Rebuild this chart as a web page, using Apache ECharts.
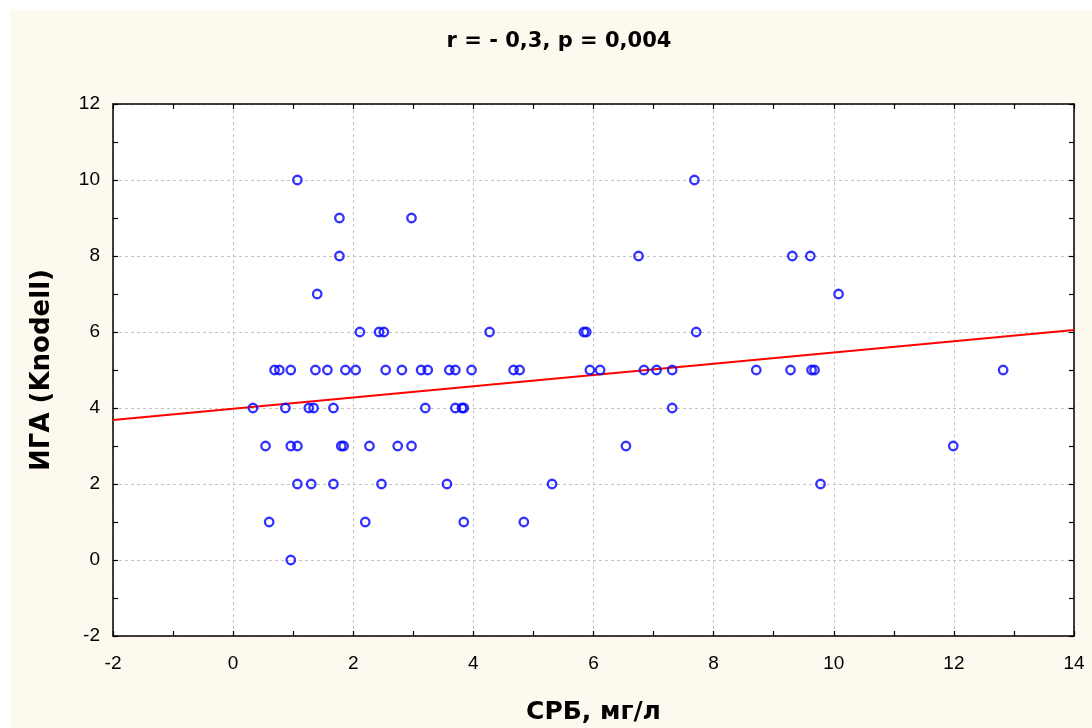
<!DOCTYPE html>
<html>
<head>
<meta charset="utf-8">
<script src="https://cdn.jsdelivr.net/npm/echarts@6/dist/echarts.min.js"></script>
<style>
html,body{margin:0;padding:0;background:#ffffff;}
#chart{width:1092px;height:728px;}
</style>
</head>
<body>
<div id="chart"></div>
<script>
// ---- data ----
const titleText = 'r = - 0,3, p = 0,004';
const xAxisName = 'СРБ, мг/л';
const yAxisName = 'ИГА (Knodell)';
const xTicks = [-2, 0, 2, 4, 6, 8, 10, 12, 14];
const yTicks = [-2, 0, 2, 4, 6, 8, 10, 12];
const xValues = [
  1.07, 7.68,
  1.77, 2.97,
  1.77, 6.75, 9.31, 9.61,
  1.40, 10.08,
  2.11, 2.43, 2.51, 4.27, 5.84, 5.88, 7.71,
  0.69, 0.77, 0.96, 1.37, 1.57, 1.87, 2.04, 2.54, 2.81, 3.13, 3.24, 3.60, 3.70, 3.97, 4.67, 4.77, 5.94, 6.11, 6.84, 7.05, 7.31, 8.71, 9.28, 9.63, 9.68, 12.82,
  0.33, 0.87, 1.26, 1.34, 1.67, 3.20, 3.70, 3.81, 3.84, 7.31,
  0.54, 0.96, 1.07, 1.80, 1.84, 2.27, 2.74, 2.97, 6.54, 11.99,
  1.07, 1.30, 1.67, 2.47, 3.56, 5.31, 9.78,
  0.60, 2.20, 3.84, 4.84,
  0.96
];
const yValues = [
  10, 10,
  9, 9,
  8, 8, 8, 8,
  7, 7,
  6, 6, 6, 6, 6, 6, 6,
  5, 5, 5, 5, 5, 5, 5, 5, 5, 5, 5, 5, 5, 5, 5, 5, 5, 5, 5, 5, 5, 5, 5, 5, 5, 5,
  4, 4, 4, 4, 4, 4, 4, 4, 4, 4,
  3, 3, 3, 3, 3, 3, 3, 3, 3, 3,
  2, 2, 2, 2, 2, 2, 2,
  1, 1, 1, 1,
  0
];
const fitIntercept = 3.98;
const fitSlope = 0.148;

// ---- build chart ----
const xMin = xTicks[0], xMax = xTicks[xTicks.length - 1];
const yMin = yTicks[0], yMax = yTicks[yTicks.length - 1];
const points = xValues.map((x, i) => [x, yValues[i]]);
const fitLine = [xMin, xMax].map(x => [x, fitIntercept + fitSlope * x]);

const tickFont = { color: '#000', fontFamily: 'Liberation Sans, Arial, sans-serif', fontSize: 19 };

function mainAxis(min, max, pos, labelMargin) {
  return {
    type: 'value', min: min, max: max, interval: 2, position: pos,
    axisLine: { show: true, onZero: false, lineStyle: { color: '#000', width: 1.5 } },
    axisTick: { show: true, inside: true, length: 5, lineStyle: { color: '#000', width: 1.2 } },
    minorTick: { show: true, splitNumber: 2, length: 5, lineStyle: { color: '#000', width: 1.2 } },
    axisLabel: Object.assign({ margin: labelMargin }, tickFont),
    splitLine: { show: true, lineStyle: { color: '#c4c4c4', width: 1, type: [3, 3] } },
    minorSplitLine: { show: false }
  };
}
function mirrorAxis(min, max, pos) {
  return {
    type: 'value', min: min, max: max, interval: 2, position: pos,
    axisLine: { show: true, onZero: false, lineStyle: { color: '#000', width: 1.5 } },
    axisTick: { show: true, inside: true, length: 5, lineStyle: { color: '#000', width: 1.2 } },
    minorTick: { show: true, splitNumber: 2, length: 5, lineStyle: { color: '#000', width: 1.2 } },
    axisLabel: { show: false },
    splitLine: { show: false }
  };
}

const chart = echarts.init(document.getElementById('chart'), null, { renderer: 'canvas' });
chart.setOption({
  backgroundColor: '#ffffff',
  animation: false,
  graphic: [
    { type: 'rect', z: -10, silent: true, shape: { x: 11, y: 10, width: 1092 - 11, height: 728 - 10 }, style: { fill: '#FEF9EF' } },
    { type: 'text', x: 559, y: 42, silent: true,
      style: { text: titleText, x: 0, y: 0, textAlign: 'center', textVerticalAlign: 'middle',
               font: 'bold 21px "DejaVu Sans", sans-serif', fill: '#000' } }
  ],
  grid: { left: 113, right: 18, top: 104, bottom: 92, show: true, backgroundColor: '#ffffff', borderWidth: 0,
          containLabel: false, outerBoundsMode: 'none' },
  xAxis: [
    Object.assign(mainAxis(xMin, xMax, 'bottom', 18), {
      name: xAxisName, nameLocation: 'middle', nameGap: 64,
      nameTextStyle: { color: '#000', fontFamily: 'DejaVu Sans, sans-serif', fontWeight: 'bold', fontSize: 25 }
    }),
    mirrorAxis(xMin, xMax, 'top')
  ],
  yAxis: [
    Object.assign(mainAxis(yMin, yMax, 'left', 13), {
      name: yAxisName, nameLocation: 'middle', nameGap: 58, nameRotate: 90,
      nameTextStyle: { color: '#000', fontFamily: 'DejaVu Sans, sans-serif', fontWeight: 'bold', fontSize: 26 }
    }),
    mirrorAxis(yMin, yMax, 'right')
  ],
  series: [
    {
      type: 'line', data: fitLine, showSymbol: false, symbol: 'none', clip: true,
      lineStyle: { color: '#ff0000', width: 2 }, z: 3
    },
    {
      type: 'scatter', data: points, symbol: 'circle', symbolSize: 8.5, z: 4,
      itemStyle: { color: 'rgba(0,0,0,0)', borderColor: '#0000ff', borderWidth: 2.3 }
    }
  ]
});
</script>
</body>
</html>
